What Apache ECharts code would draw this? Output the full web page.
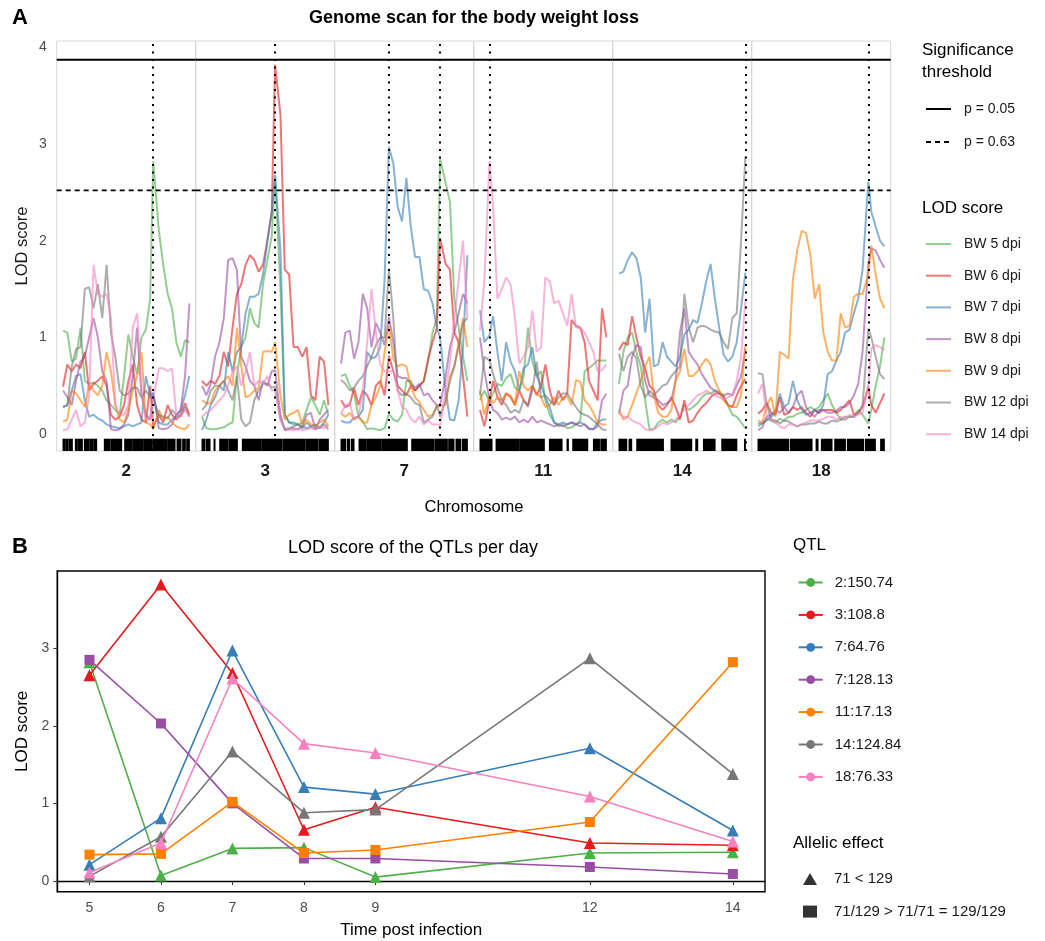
<!DOCTYPE html>
<html>
<head>
<meta charset="utf-8">
<script src="https://cdn.jsdelivr.net/npm/echarts@6/dist/echarts.min.js"></script>
</head>
<body style="margin:0">
<div id="container" style="width:1045px;height:941px"></div>
<script>
var FONT = '"Liberation Sans", Arial, sans-serif';

// ---------- panel A : genome scan ----------
var bwNames = ['BW 5 dpi', 'BW 6 dpi', 'BW 7 dpi', 'BW 8 dpi', 'BW 9 dpi', 'BW 12 dpi', 'BW 14 dpi'];
var bwColors = ['rgba(77,175,74,0.6)', 'rgba(228,26,28,0.6)', 'rgba(55,126,184,0.6)', 'rgba(152,78,163,0.6)',
                'rgba(255,127,0,0.6)', 'rgba(119,119,119,0.6)', 'rgba(247,129,191,0.6)'];
var chromosomes = ['2', '3', '7', '11', '14', '18'];
var qtlPositions = [[150.74], [108.8], [64.76, 128.13], [17.13], [124.84], [76.33]];
var thresholdNames = ['p = 0.05', 'p = 0.63'];
var thresholds = [3.87, 2.52];

// marker positions (Mb) per chromosome
var pos2 = [3, 10.1, 17.3, 24.4, 31.6, 38.7, 45.8, 53, 60.1, 67.3, 74.4, 81.5, 88.7, 95.8, 103, 110.1, 117.2, 124.4, 131.5, 138.7, 145.8, 150.74, 160.1, 167.2, 174.4, 181.5, 188.6, 195.8, 202.9, 210];
var pos3 = [3, 9.3, 15.6, 21.9, 28.2, 34.6, 40.9, 47.2, 53.5, 59.8, 66.1, 72.4, 78.7, 85, 91.3, 97.7, 104, 108.8, 116.6, 122.9, 129.2, 135.5, 141.8, 148.1, 154.4, 160.7, 167.1, 173.4, 179.7, 186];
var pos7 = [5.4, 10.8, 16.2, 21.6, 27, 32.4, 37.8, 43.2, 48.6, 54, 59.4, 64.76, 70.2, 75.6, 81, 86.4, 91.8, 97.2, 102.6, 108, 113.4, 118.8, 124.2, 128.13, 135, 140.4, 145.8, 151.2, 156.6, 162];
var pos11 = [8, 12.2, 17.13, 20.6, 24.8, 29, 33.2, 37.5, 41.7, 45.9, 50.1, 54.3, 58.5, 62.7, 66.9, 71.1, 75.3, 79.6, 83.8, 88, 92.2, 96.4, 100.6, 104.8, 109, 113.2, 117.4, 121.6, 125.8, 130];
var pos14 = [15, 18.8, 22.6, 26.4, 30.1, 33.9, 37.7, 41.5, 45.3, 49.1, 52.9, 56.7, 60.5, 64.2, 68, 71.8, 75.6, 79.4, 83.2, 87, 90.8, 94.6, 98.3, 102.1, 105.9, 109.7, 113.5, 117.3, 121.1, 124.84];
var pos18 = [3, 5.9, 8.8, 11.7, 14.6, 17.5, 20.4, 23.3, 26.2, 29.1, 32, 34.9, 37.8, 40.7, 43.6, 46.4, 49.3, 52.2, 55.1, 58, 60.9, 63.8, 66.7, 69.6, 72.5, 76.33, 78.3, 81.2, 84.1, 87];

// LOD scores, one row per BW day (5, 6, 7, 8, 9, 12, 14 dpi)
var lod2 = [
  [1.07, 1.05, 0.75, 0.78, 1.1, 0.55, 0.52, 0.53, 0.5, 0.45, 0.35, 0.3, 0.25, 0.2, 0.6, 1.03, 0.8, 0.62, 1.0, 1.08, 1.4, 2.82, 2.1, 1.75, 1.45, 1.3, 0.95, 0.8, 0.97, 0.95],
  [0.49, 0.72, 0.65, 0.72, 0.68, 0.85, 0.45, 0.52, 0.55, 0.6, 0.5, 0.2, 0.15, 0.18, 0.3, 0.55, 0.72, 0.3, 0.15, 0.12, 0.5, 0.07, 0.2, 0.12, 0.3, 0.2, 0.15, 0.2, 0.32, 0.2],
  [0.28, 0.3, 0.45, 0.6, 0.62, 0.35, 0.18, 0.2, 0.16, 0.14, 0.1, 0.08, 0.07, 0.06, 0.08, 0.1, 0.08, 0.1, 0.12, 0.6, 0.4, 0.42, 0.12, 0.1, 0.1, 0.15, 0.18, 0.25, 0.4, 0.6],
  [0.45, 0.38, 0.3, 0.55, 0.75, 0.8, 1.0, 1.2, 1.0, 0.65, 0.55, 0.05, 0.04, 0.05, 0.1, 0.2, 0.6, 1.1, 0.4, 0.2, 0.15, 0.43, 0.06, 0.05, 0.06, 0.1, 0.2, 0.25, 0.6, 1.35],
  [0.13, 0.15, 0.45, 0.42, 0.35, 0.28, 0.52, 0.45, 0.4, 0.5, 0.85, 0.65, 0.3, 0.15, 0.12, 0.25, 0.45, 0.6, 0.85, 0.12, 0.1, 0.05, 0.25, 0.15, 0.18, 0.12, 0.08, 0.06, 0.05, 0.1],
  [0.28, 0.3, 0.7, 0.88, 0.9, 1.5, 1.52, 1.3, 1.55, 1.2, 1.75, 1.05, 0.8, 0.45, 0.4, 0.42, 0.48, 0.48, 0.38, 0.45, 0.38, 0.36, 0.2, 0.18, 0.16, 0.25, 0.2, 0.18, 0.28, 0.18],
  [0.04, 0.05, 0.15, 0.25, 0.08, 0.12, 0.4, 1.75, 1.45, 1.42, 1.45, 1.2, 0.3, 0.2, 0.2, 0.3, 1.1, 1.25, 0.45, 0.15, 0.15, 0.37, 0.68, 0.68, 0.65, 0.68, 0.2, 0.18, 0.25, 0.18]
];
var lod3 = [
  [0.18, 0.06, 0.05, 0.05, 0.06, 0.07, 0.1, 0.12, 0.6, 0.9, 1.0, 1.3, 1.15, 1.1, 1.55, 1.8, 2.05, 2.65, 1.5, 0.2, 0.12, 0.1, 0.1, 0.12, 0.25, 0.38, 0.3, 0.2, 0.35, 0.2],
  [0.55, 0.5, 0.55, 0.52, 0.6, 0.85, 0.7, 1.1, 1.45, 1.55, 1.75, 1.85, 1.8, 1.68, 1.75, 2.0, 2.3, 3.82, 3.3, 1.7, 1.65, 0.9, 0.9, 0.8, 0.9, 0.4, 0.35, 0.8, 0.75, 0.3],
  [0.04, 0.15, 0.3, 0.38, 0.5, 0.45, 0.85, 0.65, 0.85, 0.9, 1.25, 1.42, 1.42, 1.45, 1.65, 2.0, 2.3, 2.68, 1.9, 0.2, 0.12, 0.12, 0.1, 0.08, 0.06, 0.08, 0.05, 0.07, 0.12, 0.2],
  [0.5, 0.4, 0.52, 0.8, 0.95, 1.2, 1.8, 1.82, 1.7, 0.8, 0.7, 0.55, 0.5, 0.35, 0.55, 0.5, 0.65, 0.66, 0.2, 0.04, 0.05, 0.06, 0.05, 0.08, 0.2, 0.22, 0.05, 0.15, 0.2, 0.25],
  [0.35, 0.32, 0.32, 0.45, 0.5, 0.55, 0.6, 0.5, 1.1, 0.7, 0.38, 0.4, 0.45, 0.48, 0.85, 0.86, 0.85, 0.95, 0.4, 0.15, 0.2, 0.22, 0.25, 0.1, 0.15, 0.1, 0.08, 0.12, 0.15, 0.08],
  [0.25, 0.3, 0.45, 0.5, 0.5, 0.55, 0.45, 0.35, 0.6, 0.15, 0.08, 0.12, 0.35, 0.45, 0.52, 0.52, 0.48, 0.49, 0.15, 0.05, 0.06, 0.08, 0.1, 0.06, 0.12, 0.08, 0.1, 0.06, 0.1, 0.05],
  [0.18, 0.22, 0.25, 0.3, 0.35, 0.4, 0.5, 0.65, 0.7, 0.5, 0.65, 0.85, 0.5, 0.55, 0.52, 0.6, 0.45, 0.46, 0.15, 0.06, 0.05, 0.04, 0.05, 0.04, 0.05, 0.06, 0.05, 0.08, 0.06, 0.1]
];
var lod7 = [
  [0.6, 0.62, 0.5, 0.42, 0.18, 0.13, 0.05, 0.06, 0.05, 0.04, 0.06, 0.21, 0.15, 0.13, 0.2, 0.55, 0.55, 0.45, 0.5, 0.55, 0.75, 1.05, 1.2, 2.85, 2.6, 2.4, 1.4, 1.1, 0.8, 0.55],
  [0.35, 0.28, 0.3, 0.48, 0.3, 0.45, 0.4, 0.3, 0.5, 0.55, 0.4, 0.81, 0.65, 0.5, 0.45, 0.4, 0.5, 0.45, 0.5, 0.55, 0.78, 0.95, 1.1, 2.03, 1.76, 1.7, 1.05, 0.95, 0.6, 0.18],
  [0.14, 0.12, 0.12, 0.17, 0.18, 0.25, 0.85, 0.78, 0.8, 0.9, 1.6, 2.97, 2.8, 2.35, 2.2, 2.65, 2.15, 1.83, 1.83, 1.5, 1.48, 1.35, 1.1, 1.0, 0.45, 0.15, 0.14, 0.35, 0.9, 1.85],
  [0.73, 1.05, 1.07, 0.78, 0.95, 1.45, 1.3, 0.9, 1.15, 1.05, 0.92, 1.21, 0.95, 0.6, 0.58, 0.58, 0.52, 0.48, 0.52, 0.4, 0.42, 0.35, 0.3, 0.29, 0.6, 0.9, 1.05, 1.25, 1.45, 1.35],
  [0.21, 0.18, 0.22, 0.15, 0.18, 0.12, 0.12, 0.3, 0.38, 0.5, 0.85, 1.12, 0.78, 0.7, 0.72, 0.7, 0.5, 0.38, 0.33, 0.25, 0.18, 0.2, 0.28, 0.29, 0.3, 0.6, 0.7, 0.95, 1.2, 0.9],
  [0.56, 0.52, 0.45, 0.48, 0.55, 0.6, 0.7, 0.8, 0.92, 1.0, 1.0, 1.71, 1.2, 0.45, 0.4, 0.42, 0.38, 0.32, 0.3, 0.12, 0.15, 0.18, 0.3, 0.18, 0.35, 0.55, 0.7, 0.9, 1.15, 1.2],
  [0.21, 0.3, 0.32, 0.15, 0.18, 0.45, 0.95, 1.5, 1.05, 0.72, 0.65, 0.65, 0.65, 0.45, 0.28, 0.25, 0.16, 0.12, 0.18, 0.1, 0.14, 0.1, 0.1, 0.09, 0.45, 0.75, 1.2, 1.6, 2.0, 1.2]
];
var lod11 = [
  [0.35, 0.45, 0.34, 0.42, 0.52, 0.5, 0.58, 0.62, 0.48, 0.45, 0.6, 1.1, 0.75, 0.6, 0.65, 0.35, 0.2, 0.12, 0.08, 0.1, 0.06, 0.07, 0.1, 0.14, 0.65, 0.68, 0.72, 0.76, 0.76, 0.76],
  [0.25, 0.08, 0.35, 0.55, 0.38, 0.3, 0.42, 0.38, 0.3, 0.45, 0.35, 0.3, 0.5, 0.4, 0.5, 0.72, 0.45, 0.3, 0.45, 0.35, 0.42, 1.18, 1.12, 1.1, 0.95, 0.55, 0.45, 0.35, 1.3, 1.0],
  [1.28, 0.95, 1.02, 1.22, 0.85, 0.55, 0.95, 0.75, 0.65, 0.45, 0.68, 0.72, 0.9, 0.6, 0.5, 0.38, 0.28, 0.12, 0.1, 0.12, 0.1, 0.12, 0.1, 0.12, 0.1, 0.05, 0.05, 0.12, 0.15, 0.15],
  [1.0, 0.65, 0.36, 0.25, 0.22, 0.15, 0.17, 0.15, 0.18, 0.12, 0.15, 0.12, 0.18, 0.12, 0.14, 0.12, 0.1, 0.08, 0.1, 0.08, 0.1, 0.12, 0.1, 0.08, 0.1, 0.06, 0.05, 0.08, 0.35, 0.42],
  [0.45, 0.2, 0.4, 0.32, 0.38, 0.35, 0.42, 0.4, 0.3, 0.65, 0.5, 0.45, 0.5, 0.42, 0.38, 0.28, 0.3, 0.38, 0.3, 0.38, 0.39, 0.3, 0.56, 0.54, 0.35, 0.3, 0.22, 0.12, 0.1, 0.1],
  [0.4, 0.8, 0.76, 0.62, 0.48, 0.35, 0.3, 0.22, 0.25, 0.22, 0.35, 0.28, 0.45, 0.75, 0.38, 0.4, 0.35, 0.3, 0.38, 0.42, 0.42, 0.35, 0.28, 0.22, 0.2, 0.18, 0.14, 0.1, 0.05, 0.04],
  [1.07, 1.6, 2.82, 2.35, 1.4, 1.5, 1.62, 1.55, 1.2, 0.73, 0.8, 0.9, 1.28, 0.85, 0.9, 1.62, 1.58, 1.35, 1.38, 1.25, 1.12, 1.45, 1.1, 1.1, 1.05, 0.95, 0.85, 0.65, 0.66, 0.72]
];
var lod14 = [
  [0.52, 0.85, 1.0, 1.05, 0.85, 0.7, 0.35, 0.05, 0.05, 0.12, 0.15, 0.12, 0.15, 0.12, 0.18, 0.3, 0.25, 0.28, 0.32, 0.38, 0.42, 0.42, 0.45, 0.44, 0.4, 0.3, 0.2, 0.18, 0.12, 0.06],
  [0.87, 0.95, 0.92, 1.22, 1.0, 0.8, 0.68, 0.5, 0.45, 0.3, 0.25, 0.3, 0.38, 0.28, 0.15, 0.35, 0.12, 0.14, 0.22, 0.28, 0.32, 0.38, 0.42, 0.42, 0.38, 0.3, 0.28, 0.4, 0.5, 0.57],
  [1.66, 1.68, 1.8, 1.88, 1.82, 1.62, 1.05, 1.4, 0.7, 0.72, 0.95, 0.8, 0.75, 0.7, 0.8, 1.03, 1.08, 1.18, 1.15, 1.35, 1.58, 1.76, 1.4, 1.1, 0.82, 0.75, 0.8, 0.95, 1.3, 1.67],
  [0.21, 0.45, 0.5, 0.8, 0.92, 0.9, 0.55, 0.4, 0.38, 0.35, 0.3, 0.32, 0.35, 0.55, 1.05, 1.3, 0.85, 0.78, 0.72, 0.62, 0.55, 0.48, 0.45, 0.42, 0.4, 0.42, 0.4, 0.5, 0.6, 0.88],
  [0.25, 0.15, 0.18, 0.3, 0.42, 0.55, 0.7, 0.8, 0.4, 0.22, 0.18, 0.18, 0.25, 0.55, 0.65, 0.88, 0.6, 0.6, 0.65, 0.72, 0.78, 0.72, 0.55, 0.45, 0.35, 0.3, 0.28, 0.28, 0.4, 0.92],
  [0.83, 0.65, 0.8, 0.85, 0.78, 0.5, 0.38, 0.45, 0.4, 0.45, 0.5, 0.52, 0.6, 0.65, 0.7, 1.45, 1.1, 0.95, 1.1, 1.12, 1.11, 1.08, 1.06, 1.05, 0.95, 0.88, 1.2, 1.25, 2.0, 2.87],
  [0.21, 0.18, 0.18, 0.14, 0.12, 0.1, 0.05, 0.04, 0.05, 0.08, 0.12, 0.1, 0.12, 0.15, 0.2, 0.25, 0.3, 0.35, 0.4, 0.42, 0.45, 0.42, 0.4, 0.38, 0.36, 0.38, 0.4, 0.55, 0.8, 1.38]
];
var lod18 = [
  [0.08, 0.11, 0.16, 0.14, 0.12, 0.16, 0.14, 0.18, 0.18, 0.21, 0.22, 0.25, 0.28, 0.25, 0.28, 0.35, 0.42, 0.3, 0.22, 0.15, 0.15, 0.18, 0.18, 0.25, 0.2, 0.11, 0.25, 0.5, 0.7, 1.0],
  [0.21, 0.25, 0.32, 0.22, 0.2, 0.38, 0.2, 0.22, 0.28, 0.25, 0.28, 0.22, 0.18, 0.25, 0.22, 0.25, 0.25, 0.25, 0.22, 0.25, 0.3, 0.35, 0.2, 0.22, 0.28, 0.49, 0.3, 0.22, 0.32, 0.42],
  [0.11, 0.11, 0.14, 0.18, 0.22, 0.42, 0.28, 0.32, 0.55, 0.35, 0.25, 0.2, 0.22, 0.25, 0.22, 0.3, 0.62, 0.65, 0.76, 0.85, 1.05, 1.08, 1.25, 1.4, 1.7, 2.61, 2.3, 2.15, 2.0, 1.94],
  [0.04, 0.07, 0.18, 0.2, 0.25, 0.22, 0.28, 0.22, 0.28, 0.4, 0.45, 0.28, 0.22, 0.18, 0.25, 0.25, 0.22, 0.22, 0.24, 0.28, 0.28, 0.32, 0.4, 0.52, 0.85, 1.77, 1.92, 1.9, 1.8, 1.72],
  [0.14, 0.12, 0.3, 0.38, 0.18, 0.85, 0.82, 0.78, 1.6, 1.9, 2.1, 2.08, 1.85, 1.4, 1.55, 1.05, 0.85, 0.76, 0.76, 1.25, 1.1, 1.12, 1.42, 1.45, 1.45, 1.65, 1.95, 1.65, 1.4, 1.3],
  [0.63, 0.62, 0.3, 0.15, 0.14, 0.11, 0.14, 0.13, 0.1, 0.08, 0.1, 0.1, 0.11, 0.11, 0.13, 0.11, 0.11, 0.14, 0.13, 0.15, 0.18, 0.18, 0.18, 0.22, 0.3, 1.09, 1.0, 0.8, 0.62, 0.57],
  [0.42, 0.52, 0.18, 0.14, 0.12, 0.08, 0.06, 0.1, 0.1, 0.08, 0.1, 0.12, 0.14, 0.14, 0.14, 0.16, 0.18, 0.18, 0.15, 0.18, 0.15, 0.2, 0.18, 0.2, 0.22, 0.51, 0.88, 0.92, 0.9, 0.87]
];

// genotyped marker stretches (start, end in Mb) shown as the rug
var rug2 = [[3, 6.8], [8.5, 11.2], [12.8, 18.3], [23.2, 26.5], [28.1, 34.7], [38, 45], [46.7, 51.6], [53.2, 58.1], [70.7, 80], [81.6, 99.1], [104, 115.5], [117.1, 134.6], [136.2, 149.3], [151, 172.8], [174.4, 186.5], [189.8, 196.3], [199, 203.4], [205.6, 210]];
var rug3 = [[3, 6.9], [8.8, 14.6], [20.4, 21.8], [28.6, 40.7], [42.1, 54.2], [61.4, 88.9], [90.4, 118.9], [120.3, 151.7], [153.2, 171], [172.5, 186]];
var rug7 = [[5.4, 11.2], [13.2, 16.1], [18.2, 21.5], [27.7, 36], [37.2, 54.6], [55.8, 87.6], [93, 120.6], [121.9, 137.2], [138.8, 145.4], [147.9, 153.7], [155.7, 162]];
var rug11 = [[8, 19.6], [23.5, 46], [47, 70.1], [75, 87.2], [92, 93.3], [97.5, 112], [117.5, 123.3], [124.6, 130]];
var rug14 = [[15, 21.7], [23.7, 26], [30.4, 53.6], [60.2, 78.2], [81.7, 83.4], [88.4, 98.5], [104.3, 117.4], [124.1, 124.84]];
var rug18 = [[3, 23.4], [24.5, 38.9], [41.6, 42.9], [45.1, 52.2], [54, 61.1], [62.4, 73.2], [74.4, 81], [84.5, 87]];

// ---------- panel B : LOD of the QTLs per day ----------
var days = [5, 6, 7, 8, 9, 12, 14];
var qtlNames = ['2:150.74', '3:108.8', '7:64.76', '7:128.13', '11:17.13', '14:124.84', '18:76.33'];
var qtlColors = ['#4DAF4A', '#E41A1C', '#377EB8', '#984EA3', '#FF7F00', '#777777', '#F781BF'];
var qtlEffect = ['tri', 'tri', 'tri', 'sq', 'sq', 'tri', 'tri'];
var effectNames = ['71 < 129', '71/129 > 71/71 = 129/129'];
var qtlLod = [
  [2.82, 0.07, 0.42, 0.43, 0.05, 0.36, 0.37],
  [2.65, 3.82, 2.68, 0.66, 0.95, 0.49, 0.46],
  [0.21, 0.81, 2.97, 1.21, 1.12, 1.71, 0.65],
  [2.85, 2.03, 1.0, 0.29, 0.29, 0.18, 0.09],
  [0.34, 0.35, 1.02, 0.36, 0.4, 0.76, 2.82],
  [0.06, 0.57, 1.67, 0.88, 0.92, 2.87, 1.38],
  [0.11, 0.49, 2.61, 1.77, 1.65, 1.09, 0.51]
];

var positions = [pos2, pos3, pos7, pos11, pos14, pos18];
var lodA = [lod2, lod3, lod7, lod11, lod14, lod18];
var rugs = [rug2, rug3, rug7, rug11, rug14, rug18];

var yMinA = -0.175, yMaxA = 4.065;
var grids = [], xAxes = [], yAxes = [], series = [];

chromosomes.forEach(function (chr, c) {
  var pos = positions[c];
  var pad = (pos[pos.length - 1] - pos[0]) * 0.05;
  var xmin = pos[0] - pad, xmax = pos[pos.length - 1] + pad;

  grids.push({ left: 56.7 + c * 139, top: 41, width: 139, height: 410,
    show: true, borderColor: '#d6d6d6', borderWidth: 1 });
  xAxes.push({ type: 'value', gridIndex: c, min: xmin, max: xmax,
    axisLine: { show: false }, axisTick: { show: false }, axisLabel: { show: false }, splitLine: { show: false },
    name: chr, nameLocation: 'middle', nameGap: 12,
    nameTextStyle: { fontSize: 17, fontWeight: 'bold', color: '#1a1a1a', verticalAlign: 'top' } });
  yAxes.push({ type: 'value', gridIndex: c, min: yMinA, max: yMaxA,
    axisLine: { show: false }, axisTick: { show: false }, splitLine: { show: false },
    axisLabel: c === 0 ? { customValues: [0, 1, 2, 3, 4], color: '#4d4d4d', fontSize: 14, margin: 10 } : { show: false },
    name: c === 0 ? 'LOD score' : '', nameLocation: 'middle', nameGap: 26, nameRotate: 90,
    nameTextStyle: { fontSize: 16.5, color: '#1a1a1a' } });

  bwNames.forEach(function (nm, s) {
    series.push({ type: 'line', name: nm, xAxisIndex: c, yAxisIndex: c, symbol: 'none', silent: true, z: 2,
      data: pos.map(function (p, i) { return [p, lodA[c][s][i]]; }),
      lineStyle: { color: bwColors[s], width: 2 }, itemStyle: { color: bwColors[s] } });
  });

  thresholdNames.forEach(function (nm, t) {
    var s = { type: 'line', name: nm, xAxisIndex: c, yAxisIndex: c, symbol: 'none', silent: true, z: 5,
      data: [[xmin, thresholds[t]], [xmax, thresholds[t]]],
      lineStyle: { color: '#000', width: t === 0 ? 2 : 1.7, type: t === 0 ? 'solid' : [5, 4] },
      itemStyle: { color: '#000' } };
    if (t === 0) {
      s.markLine = { symbol: 'none', silent: true, animation: false, label: { show: false },
        lineStyle: { color: '#000', width: 2, type: [2, 5.5] },
        data: qtlPositions[c].map(function (q) { return { xAxis: q }; }) };
    }
    series.push(s);
  });

  series.push({ type: 'custom', xAxisIndex: c, yAxisIndex: c, silent: true, z: 6,
    data: rugs[c],
    renderItem: function (params, api) {
      var p1 = api.coord([api.value(0), yMinA]);
      var p2 = api.coord([api.value(1), yMinA]);
      return { type: 'rect',
        shape: { x: p1[0] - 0.5, y: p1[1] - 12.3, width: Math.max(p2[0] - p1[0], 0) + 1, height: 12.3 },
        style: { fill: '#000' } };
    } });
});

// panel B grid (index 6)
grids.push({ left: 57.3, top: 571, width: 707.7, height: 320.7, show: true, borderColor: '#000', borderWidth: 1.4 });
xAxes.push({ type: 'value', gridIndex: 6, min: 4.55, max: 14.45,
  axisLine: { show: true, lineStyle: { color: '#000', width: 1.4 } },
  axisTick: { show: true, customValues: days, length: 4, lineStyle: { color: '#333' } },
  axisLabel: { customValues: days, color: '#4d4d4d', fontSize: 14, margin: 9 },
  splitLine: { show: false },
  name: 'Time post infection', nameLocation: 'middle', nameGap: 30,
  nameTextStyle: { fontSize: 17, color: '#000' } });
yAxes.push({ type: 'value', gridIndex: 6, min: -0.138, max: 3.995,
  axisLine: { show: true, lineStyle: { color: '#000', width: 1.4 } },
  axisTick: { show: true, customValues: [0, 1, 2, 3], length: 4, lineStyle: { color: '#333' } },
  axisLabel: { customValues: [0, 1, 2, 3], color: '#4d4d4d', fontSize: 14, margin: 8 },
  splitLine: { show: false },
  name: 'LOD score', nameLocation: 'middle', nameGap: 26, nameRotate: 90,
  nameTextStyle: { fontSize: 17, color: '#000' } });

qtlNames.forEach(function (nm, q) {
  var tri = qtlEffect[q] === 'tri';
  series.push({ type: 'line', name: nm, xAxisIndex: 6, yAxisIndex: 6, symbol: 'circle', symbolSize: 11, z: 3 + q,
    silent: true,
    data: days.map(function (d, j) {
      return { value: [d, qtlLod[q][j]], symbol: tri ? 'triangle' : 'rect', symbolSize: tri ? 12 : 10 };
    }),
    lineStyle: { color: qtlColors[q], width: 1.6 }, itemStyle: { color: qtlColors[q] } });
});
effectNames.forEach(function (nm, k) {
  series.push({ type: 'scatter', name: nm, xAxisIndex: 6, yAxisIndex: 6, data: [],
    symbol: k === 0 ? 'triangle' : 'rect', itemStyle: { color: '#000' } });
});

function txt(str, x, y, size, weight, align) {
  return { type: 'text', x: x, y: y, silent: true,
    style: { text: str, fill: '#000', font: (weight || 'normal') + ' ' + size + 'px ' + FONT,
      align: align || 'left', verticalAlign: 'middle', textAlign: align || 'left', textVerticalAlign: 'middle' } };
}

var option = {
  animation: false,
  textStyle: { fontFamily: FONT },
  grid: grids,
  xAxis: xAxes,
  yAxis: yAxes,
  legend: [
    { data: thresholdNames, orient: 'vertical', left: 920, top: 97, itemWidth: 25, itemHeight: 14, itemGap: 19,
      selectedMode: false, itemStyle: { opacity: 0 },
      textStyle: { fontSize: 14, color: '#1a1a1a', padding: [0, 0, 0, 8] } },
    { data: bwNames, orient: 'vertical', left: 920, top: 232, itemWidth: 25, itemHeight: 14, itemGap: 17.7,
      selectedMode: false, itemStyle: { opacity: 0 },
      textStyle: { fontSize: 14, color: '#1a1a1a', padding: [0, 0, 0, 8] } },
    { data: qtlNames, orient: 'vertical', left: 792.7, top: 570, itemWidth: 24, itemHeight: 11, itemGap: 17.4,
      selectedMode: false, textStyle: { fontSize: 15, color: '#1a1a1a', padding: [0, 0, 0, 7] } },
    { data: effectNames, orient: 'vertical', left: 798, top: 866.5, itemWidth: 14, itemHeight: 12, itemGap: 17.6,
      selectedMode: false, textStyle: { fontSize: 15, color: '#1a1a1a', padding: [0, 0, 0, 12] } }
  ],
  graphic: [
    txt('A', 12, 18, 22, 'bold'),
    txt('Genome scan for the body weight loss', 474, 18, 18, 'bold', 'center'),
    txt('Chromosome', 474, 507, 16.5, 'normal', 'center'),
    txt('Significance', 922, 50, 17),
    txt('threshold', 922, 72, 17),
    txt('LOD score', 922, 208, 17),
    txt('B', 12, 547, 22, 'bold'),
    txt('LOD score of the QTLs per day', 413, 548, 18, 'normal', 'center'),
    txt('QTL', 793, 545, 17),
    txt('Allelic effect', 793, 843, 17)
  ],
  series: series
};

var myChart = echarts.init(document.getElementById('container'));
myChart.setOption(option);
</script>
</body>
</html>
